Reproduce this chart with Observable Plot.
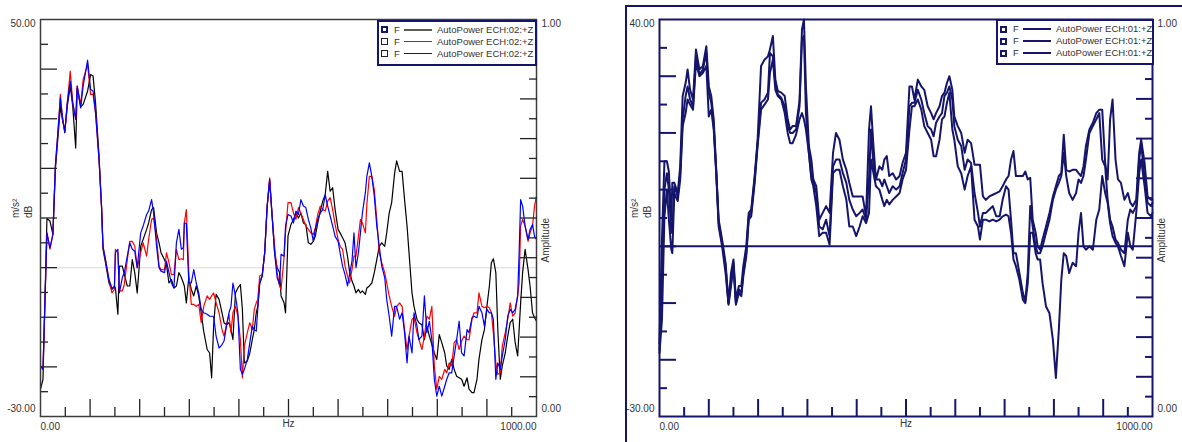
<!DOCTYPE html>
<html>
<head>
<meta charset="utf-8">
<script src="https://cdn.jsdelivr.net/npm/d3@7"></script>
<script src="https://cdn.jsdelivr.net/npm/@observablehq/plot@0.6"></script>
<style>
html, body { margin: 0; padding: 0; background: #fff; overflow: hidden; }
#root { position: relative; width: 1182px; height: 442px; font-family: "Liberation Sans", Arial, Helvetica, sans-serif; }
.wrap { position: absolute; top: 0; width: 591px; height: 442px; }
.wrap svg { position: absolute; left: 0; top: 0; }
.outer { position: absolute; left: 625px; top: 5px; width: 700px; height: 600px; border-left: 2px solid #15156b; border-top: 2px solid #15156b; box-sizing: border-box; }
.legend { position: absolute; background: #fff; border: 2px solid #15156b; box-sizing: border-box; }
.legend div { position: absolute; }
.lg-text { font-size: 9.5px; line-height: 12px; height: 12px; color: #333; white-space: nowrap; }
</style>
</head>
<body>
<div id="root"></div>
<script>
// ---------------- DATA ----------------
// Left chart (dB, -30..50)
const freqL = [0,5,13,19,25,30,37,40,44,49,54,60,65,71,74,81,86,95,101,106,111,118,123,126,131,138,144,149,151,156,159,165,169,175,180,185,190,195,202,207,214,218,224,228,234,239,243,250,254,259,264,269,274,279,284,288,290,294,299,304,309,314,319,324,329,336,341,345,349,354,360,366,370,375,380,384,388,393,398,403,407,411,417,422,427,431,435,438,442,447,452,457,462,467,472,477,482,485,491,494,499,
505,510,515,520,525,530,535,540,545,550,554,559,564,569,574,579,584,589,594,600,604,609,614,619,623,628,632,636,641,645,649,655,658,663,668,673,678,683,688,694,698,703,708,714,718,724,729,734,739,743,749,753,759,763,769,774,779,784,789,794,799,804,809,815,819,824,829,834,839,844,849,854,860,864,870,874,880,884,890,895,900,905,909,913,918,922,927,931,937,942,947,952,957,962,965,968,972,977,983,987,992,996,1000];

const blackL = [-24.5,-22.5,9.9,9.4,6.7,19.8,28.5,32.5,29.9,27.5,
32.5,36.6,32.5,24.1,36.2,32.4,32.9,35.6,38.9,38.6,
33.2,22.5,12.4,3.7,1.0,-3.1,-4.4,-3.7,-4.1,-9.4,
0.3,0.3,-1.4,-3.7,-3.7,1.6,-1.0,-5.1,4.3,5.7,
7.7,9.0,11.7,12.1,7.0,5.0,3.0,1.6,0.6,-3.1,
-2.4,-4.1,-3.7,-1.0,-2.0,-3.1,-3.7,-7.1,-2.0,-4.4,
-5.7,-3.7,-5.7,-9.1,-12.8,-16.5,-17.2,-22.2,-11.8,-5.4,
-6.4,-9.1,-11.1,-11.5,-11.1,-12.5,-14.5,-5.1,-4.1,-3.4,
-8.4,-19.2,-18.8,-17.2,-14.5,-12.5,-9.1,-7.8,-3.1,-1.7,
3.0,12.4,17.4,10.4,3.0,0.0,-1.0,-5.7,-7.1,-9.1,
6.4,
8.7,9.7,11.0,10.0,11.0,9.0,8.7,5.0,4.7,
5.3,6.3,9.0,11.4,13.4,14.7,19.4,15.4,16.1,11.7,
7.7,7.0,6.0,5.0,2.3,-0.7,-2.7,-3.7,-5.1,-4.4,
-5.1,-4.7,-5.4,-4.1,-3.7,-3.1,-1.0,1.6,4.3,5.0,
4.3,7.0,11.0,13.1,19.1,21.5,19.4,19.4,13.7,8.4,
3.0,-5.1,-7.8,-10.4,-11.1,-11.5,-14.5,-11.8,-13.8,-15.5,
-17.2,-18.5,-13.5,-15.1,-17.2,-19.8,-20.5,-18.5,-20.5,-21.9,
-22.2,-22.5,-23.9,-22.2,-24.5,-25.2,-25.2,-22.5,-18.5,-14.5,
-12.5,-7.8,-3.7,1.0,1.8,-1.0,-12.5,-22.5,-19.8,-17.2,
-13.8,-11.1,-10.4,-15.1,-17.8,-12.5,-7.1,-1.0,3.7,-0.4,
-3.7,-9.1,-10.1,-10.8];

const redL = [-19.8,-20.5,7.0,3.7,6.7,20.5,29.9,34.9,30.5,27.2,
33.2,39.6,33.2,29.9,36.6,32.9,37.9,40.9,34.9,34.9,
31.2,21.8,12.4,4.3,1.6,-2.4,-5.1,-4.4,3.7,3.0,
-4.7,-4.7,-3.4,1.6,5.3,5.3,4.3,0.0,3.0,5.0,
2.3,5.7,9.7,10.0,6.0,0.3,-0.4,-0.4,3.0,1.0,
-1.4,-1.4,3.7,1.6,1.8,1.6,9.0,11.7,-1.0,-7.4,
-7.4,-7.8,-7.4,-11.1,-7.8,-5.7,-6.4,-5.7,-5.1,-7.1,
-9.1,-12.5,-13.8,-11.5,-9.4,-13.1,-9.1,-7.8,-9.8,-14.5,
-22.2,-15.8,-13.1,-11.1,-12.5,-8.4,-7.1,-6.4,-1.7,-1.4,
3.0,12.4,18.1,10.4,4.3,-1.0,-3.7,-4.4,2.0,7.0,
13.1,
13.1,11.0,9.7,12.1,11.0,9.7,8.4,7.7,7.0,
6.7,8.0,10.7,12.4,11.7,11.4,13.4,14.1,11.7,8.7,
5.7,4.3,3.7,0.3,-1.7,-3.1,-0.4,2.3,2.3,6.3,
9.7,9.0,7.0,12.7,18.4,18.4,15.7,9.7,3.0,1.0,
-1.0,-3.1,-5.7,-7.8,-9.8,-7.8,-7.1,-7.8,-12.5,-16.5,
-13.8,-10.4,-10.1,-13.1,-14.5,-16.5,-13.8,-9.8,-10.4,-7.8,
-19.8,-24.5,-21.9,-22.5,-20.5,-21.2,-19.2,-19.8,-15.1,-14.5,
-16.5,-14.8,-13.8,-14.5,-14.5,-10.4,-9.1,-9.1,-5.1,-7.8,
-8.1,-7.8,-8.1,-9.1,-13.1,-19.2,-21.5,-21.2,-15.8,-13.1,
-10.4,-7.1,-9.8,-9.1,-5.7,-3.1,8.4,9.7,8.4,5.3,
7.0,8.4,12.4,14.4];

const blueL = [-19.8,-20.5,7.0,4.0,6.7,20.5,29.9,34.2,30.5,27.2,
33.2,37.6,33.2,29.9,36.6,32.2,36.6,41.8,35.9,35.6,
31.2,21.8,12.4,4.3,1.6,-2.4,-4.1,-4.1,3.0,3.7,
-5.1,-2.0,-1.0,2.3,5.0,3.7,3.3,0.0,7.0,8.4,
10.7,11.4,13.7,11.0,4.3,0.0,-0.7,-1.0,1.3,-1.0,
-3.1,-4.1,5.0,7.7,3.7,4.0,9.0,8.9,-3.1,-3.1,
-0.4,-3.1,-5.1,-8.4,-9.1,-9.4,-9.8,-9.8,-9.8,-13.8,
-16.2,-15.5,-14.8,-11.8,-9.1,-7.8,-3.1,-5.7,-9.1,-20.5,
-21.5,-20.5,-18.5,-15.1,-11.8,-12.5,-12.8,-8.4,-3.1,-1.7,
3.0,12.4,17.8,10.4,3.0,-2.0,-3.4,2.7,2.3,8.4,
10.7,
10.4,9.0,11.4,10.7,13.7,12.4,12.1,9.7,8.0,
5.3,7.7,9.7,11.0,11.7,14.7,12.4,10.4,8.4,6.3,
5.3,3.0,0.3,-1.4,-3.7,-1.4,1.3,7.0,0.0,3.0,
7.0,11.0,15.1,18.4,21.1,18.4,14.4,8.4,4.3,0.3,
-2.0,-6.4,-9.8,-13.8,-7.8,-7.8,-10.4,-9.1,-13.1,-19.2,
-13.8,-17.2,-9.1,-11.8,-14.5,-13.8,-5.7,-13.1,-10.8,-14.5,
-22.5,-25.9,-23.9,-25.9,-23.9,-22.5,-21.2,-21.2,-17.8,-14.5,
-10.8,-17.2,-17.8,-12.5,-13.1,-10.1,-9.8,-10.1,-7.8,-9.1,
-11.8,-8.4,-9.1,-9.1,-10.4,-22.5,-19.2,-20.5,-17.8,-14.5,
-9.8,-8.4,-9.1,-8.4,-5.7,3.0,13.7,12.4,8.4,5.7,
7.7,8.7,6.3,5.7];

// Right chart (dB, -30..40)
const freqR = [0,5,10,15,19,24,26,30,37,42,
47,53,57,62,68,74,81,88,95,100,
105,110,115,120,127,134,140,145,150,155,
161,166,170,176,181,186,193,199,206,213,
220,224,230,235,240,247,254,260,265,270,
277,284,289,293,297,303,308,312,318,324,
331,338,345,352,358,365,372,379,385,392,
399,406,412,419,425,429,434,439,446,452,
456,461,466,473,480,487,493,500,507,512,
517,524,531,537,544,551,556,561,568,573,
578,583,588,594,598,605,612,619,625,632,
639,646,650,656,662,669,676,683,690,696,
703,708,713,718,723,730,737,742,747,752,
757,763,767,772,777,784,791,798,804,810,
815,820,825,831,838,845,850,855,860,865,
872,879,886,892,898,904,909,914,919,925,
930,936,943,950,955,960,967,973,977,984,
990,997,1000];

const traceR1 = [-17.1,1.2,15.0,15.0,13.2,4.7,11.2,11.2,9.4,14.1,
26.5,28.8,31.2,27.6,25.9,34.7,31.2,31.8,35.3,28.2,
26.5,22.4,13.5,4.7,1.2,-2.9,-10.0,-4.7,-2.3,-9.4,
-7.0,-7.0,-3.5,0.0,5.9,6.5,12.4,18.8,31.8,32.9,
33.5,34.7,37.1,29.4,27.4,27.1,26.5,22.4,20.6,21.2,
21.2,25.6,38.2,40.0,28.2,17.7,15.3,11.8,10.6,4.7,
5.9,7.1,5.9,16.5,20.0,18.8,15.3,13.5,11.2,8.8,
8.8,8.8,8.8,5.3,20.6,24.7,17.7,11.8,14.1,13.5,
15.3,15.9,12.4,12.9,11.8,12.4,14.7,16.5,28.2,28.2,
25.9,29.4,28.2,27.6,24.7,23.5,22.4,23.5,24.7,26.5,
27.1,28.8,30.0,27.6,22.9,21.2,20.0,16.5,18.8,18.2,
14.4,14.4,14.4,8.8,8.2,8.8,9.1,9.4,9.7,10.6,
11.8,12.4,15.3,16.8,12.4,12.4,12.4,13.2,11.8,12.1,
4.7,2.4,0.0,-0.6,1.2,3.5,5.9,8.8,10.6,12.4,
12.9,19.7,13.5,13.2,13.5,13.5,12.9,12.4,14.1,17.7,
20.6,21.8,23.5,24.1,24.1,14.7,11.8,22.4,25.9,15.3,
11.8,11.2,8.2,9.4,7.7,7.1,8.2,16.5,18.8,14.7,
8.8,8.2,8.2];

const traceR2 = [-18.2,-4.1,10.0,12.9,10.0,2.4,2.4,10.6,8.8,12.9,
22.4,26.5,28.2,25.9,24.7,33.5,30.3,31.2,34.1,27.1,
25.3,21.2,13.5,4.1,0.6,-3.5,-10.0,-6.5,-2.9,-10.0,
-7.6,-8.2,-4.7,-1.2,5.3,5.9,11.8,18.2,25.3,25.9,
27.1,34.1,33.5,28.8,26.8,26.2,24.7,21.2,20.0,20.0,
20.6,24.7,36.5,37.1,23.5,16.5,12.4,11.2,9.4,3.5,
3.0,4.7,1.8,14.1,15.3,15.3,12.9,11.2,8.2,6.5,
5.3,5.9,6.5,4.7,11.8,20.6,14.1,11.8,11.8,10.6,
11.8,10.6,9.4,10.6,10.0,10.6,12.9,15.3,24.7,25.3,
25.3,27.6,25.9,23.5,21.2,20.6,19.4,21.8,22.9,23.5,
26.5,27.1,28.2,25.9,21.2,18.8,17.7,13.5,15.3,14.7,
9.4,5.9,3.5,5.9,5.9,6.5,7.1,5.3,5.3,8.2,
10.6,10.0,4.7,-1.2,-1.2,-4.7,-8.2,-9.7,-4.7,7.1,
3.5,0.0,-1.2,-1.2,0.0,2.4,4.7,8.2,10.0,11.2,
12.4,16.5,12.4,9.4,8.2,9.4,11.8,11.2,12.4,15.3,
20.0,21.2,22.4,23.5,15.3,14.1,8.2,4.7,3.5,1.2,
0.6,-0.6,-1.2,4.7,6.5,5.9,7.1,15.3,18.2,11.8,
7.7,7.1,7.7];

const traceR3 = [-18.8,-12.9,5.3,10.0,4.7,-0.6,-1.2,9.4,8.0,11.8,
21.2,23.5,25.9,25.0,24.1,32.4,30.0,30.6,31.8,22.9,
24.1,20.6,12.9,3.5,0.0,-4.7,-10.3,-7.0,-3.5,-10.3,
-8.2,-8.8,-5.3,-1.7,4.7,5.3,11.2,17.7,24.1,25.0,
25.9,30.6,32.9,27.6,26.5,25.9,23.5,20.0,18.2,18.2,
19.7,22.4,23.5,22.4,20.6,16.5,11.8,10.6,7.1,1.8,
2.4,2.4,0.3,12.9,13.5,13.5,10.6,8.2,3.5,3.5,
1.8,3.5,5.3,4.1,5.9,15.3,12.9,10.6,10.0,8.2,
7.1,8.2,7.4,8.2,8.8,9.4,11.8,13.5,20.6,24.7,
24.7,25.9,24.1,21.2,20.0,18.8,15.9,15.9,18.8,22.4,
22.9,25.3,27.1,20.6,18.8,14.1,12.9,10.0,12.4,14.1,
4.7,3.5,1.2,4.7,4.7,4.4,4.7,4.4,4.7,5.3,
5.6,5.3,2.4,-2.3,-3.5,-5.9,-9.4,-10.0,-6.5,2.4,
2.4,-1.2,-2.3,-2.3,-6.5,-10.6,-11.8,-16.5,-23.2,-14.7,
-5.9,-1.2,-1.7,-4.7,-2.9,-3.5,2.4,5.9,0.0,-0.6,
0.0,-0.6,4.7,6.5,12.4,9.4,7.7,4.1,1.8,0.6,
0.0,-1.7,-3.5,2.4,0.0,-0.6,5.9,12.9,15.3,10.6,
5.9,5.3,5.9];

// Axes / ticks
const xMajorTicks = [100,200,300,400,500,600,700,800,900];
const xMinorTicks = [50,150,250,350,450,550,650,750,850,950];
const xEndTicks = [0, 1000];
const yMajorTicksL = [-20,-10,0,10,20,30,40];
const yMinorTicksL = [-25,-15,-5,5,15,25,35,45];
const yDomainL = [-30, 50];
const yMajorTicksR = [-20,-10,0,10,20,30];
const yMinorTicksR = [-25,-15,-5,5,15,25,35];
const yDomainR = [-30, 40];
const ampMajorTicks = [0.1,0.2,0.3,0.4,0.5,0.6,0.7,0.8,0.9];
const ampMinorTicks = [0.05,0.15,0.25,0.35,0.45,0.55,0.65,0.75,0.85,0.95];
const ampDomain = [0, 1];
const xLabel = "Hz";
const yUnitLabel = "m/s²";
const yDbLabel = "dB";
const ampLabel = "Amplitude";

// Legends
const legendLabelsL = ["AutoPower ECH:02:+Z", "AutoPower ECH:02:+Z", "AutoPower ECH:02:+Z"];
const legendLabelsR = ["AutoPower ECH:01:+Z", "AutoPower ECH:01:+Z", "AutoPower ECH:01:+Z"];
const legendPrefix = "F";

// ---------------- DRAW ----------------
const NAVY = "#15156b";
const FONT = "'Liberation Sans', Arial, Helvetica, sans-serif";
const fmt = d => d.toFixed(2);
const rowsOf = (freq, vals) => vals.slice(0, Math.min(freq.length, vals.length)).map((v, i) => ({f: freq[i], v}));

function mainPlot(o) {
  const tk = {stroke: o.tickColor, strokeWidth: o.tickWidth, fill: "none", label: null};
  const lab = {tickSize: 0, label: null, stroke: "none"};
  return Plot.plot({
    width: o.width, height: 442,
    marginLeft: o.ml, marginRight: o.mr, marginTop: 19, marginBottom: 26,
    x: {domain: [0, 1000], axis: null},
    y: {domain: o.yDomain, axis: null},
    style: {fontFamily: FONT, fontSize: "10px", color: "#333", background: "transparent", overflow: "visible"},
    marks: [
      Plot.ruleY([0], {stroke: o.zeroColor, strokeWidth: o.zeroWidth}),
      ...o.series.map((vals, k) => Plot.line(rowsOf(o.freq, vals), {x: "f", y: "v", stroke: o.colors[k], strokeWidth: o.lineWidth})),
      Plot.axisX(xMajorTicks, {...tk, tickSize: 17, dy: -17}),
      Plot.axisX(xMinorTicks, {...tk, tickSize: 9, dy: -9}),
      Plot.axisY(o.yMajor, {...tk, anchor: "left", tickSize: 17, dx: 17}),
      Plot.axisY(o.yMinor, {...tk, anchor: "left", tickSize: 8, dx: 8}),
      Plot.axisY([o.yDomain[1]], {...lab, anchor: "left", tickPadding: 5, tickFormat: fmt, dy: 4}),
      Plot.axisY([o.yDomain[0]], {...lab, anchor: "left", tickPadding: 5, tickFormat: fmt, dy: -8}),
      Plot.axisX([xEndTicks[0]], {...lab, tickPadding: 6, textAnchor: "start", tickFormat: fmt}),
      Plot.axisX([xEndTicks[1]], {...lab, tickPadding: 6, textAnchor: "end", tickFormat: fmt}),
      Plot.text([xLabel], {text: d => d, frameAnchor: "bottom", dy: 10}),
      Plot.text([yUnitLabel], {text: d => d, frameAnchor: "left", dx: -25, rotate: -90}),
      Plot.text([yDbLabel], {text: d => d, frameAnchor: "left", dx: -12, rotate: -90}),
      Plot.frame({stroke: o.frameColor, strokeWidth: o.frameWidth})
    ]
  });
}

function ampPlot(o) {
  const tk = {anchor: "right", stroke: o.tickColor, strokeWidth: o.tickWidth, fill: "none", label: null};
  const lab = {anchor: "right", tickSize: 0, label: null, stroke: "none", tickPadding: 5, tickFormat: fmt};
  return Plot.plot({
    width: o.width, height: 442,
    marginLeft: o.ml, marginRight: o.mr, marginTop: 19, marginBottom: 26,
    x: {domain: [0, 1000], axis: null},
    y: {domain: ampDomain, axis: null},
    style: {fontFamily: FONT, fontSize: "10px", color: "#333", background: "transparent", overflow: "visible"},
    marks: [
      Plot.axisY(ampMajorTicks, {...tk, tickSize: 17, dx: -17}),
      Plot.axisY(ampMinorTicks, {...tk, tickSize: 8, dx: -8}),
      Plot.axisY([ampDomain[1]], {...lab, dy: 4}),
      Plot.axisY([ampDomain[0]], {...lab, dy: -8}),
      Plot.text([ampLabel], {text: d => d, frameAnchor: "right", dx: 9, rotate: -90})
    ]
  });
}

function legend(parent, o) {
  const box = document.createElement("div");
  box.className = "legend";
  Object.assign(box.style, {left: o.left + "px", top: o.top + "px", width: o.width + "px", height: o.height + "px"});
  o.labels.forEach((label, i) => {
    const cy = 8 + 12 * i;
    const sq = document.createElement("div");
    Object.assign(sq.style, {left: "2px", top: (cy - 3.5) + "px", width: "7px", height: "7px", boxSizing: "border-box",
      border: o.squareWidths[i] + "px solid " + o.squareColors[i]});
    const f = document.createElement("div");
    f.className = "lg-text"; f.textContent = legendPrefix;
    Object.assign(f.style, {left: "15.5px", top: (cy - 6) + "px"});
    const ln = document.createElement("div");
    Object.assign(ln.style, {left: "25px", top: (cy - o.lineWidths[i] / 2) + "px", width: "28px", height: o.lineWidths[i] + "px", background: o.colors[i]});
    const t = document.createElement("div");
    t.className = "lg-text"; t.textContent = label;
    Object.assign(t.style, {left: "58.5px", top: (cy - 6) + "px"});
    box.append(sq, f, ln, t);
  });
  parent.appendChild(box);
}

const root = document.getElementById("root");

const outer = document.createElement("div");
outer.className = "outer";
root.appendChild(outer);

// Left chart
const wl = document.createElement("div");
wl.className = "wrap"; wl.style.left = "0px";
const leftOpts = {width: 591, ml: 40, mr: 55, freq: freqL, series: [blackL, redL, blueL],
  colors: ["#000000", "#ff0000", "#0000ff"], lineWidth: 1.2, yDomain: yDomainL,
  yMajor: yMajorTicksL, yMinor: yMinorTicksL, zeroColor: "#e4e4e4", zeroWidth: 1.5,
  tickColor: "#222", tickWidth: 1.3, frameColor: "#3c3c3c", frameWidth: 1.5};
wl.appendChild(mainPlot(leftOpts));
wl.appendChild(ampPlot({width: 591, ml: 40, mr: 55, tickColor: "#222", tickWidth: 1.3}));
root.appendChild(wl);

// Right chart
const wr = document.createElement("div");
wr.className = "wrap"; wr.style.left = "591px";
const rightOpts = {width: 591, ml: 68, mr: 30, freq: freqR, series: [traceR1, traceR2, traceR3],
  colors: [NAVY, NAVY, NAVY], lineWidth: 2, yDomain: yDomainR,
  yMajor: yMajorTicksR, yMinor: yMinorTicksR, zeroColor: NAVY, zeroWidth: 2,
  tickColor: NAVY, tickWidth: 2, frameColor: NAVY, frameWidth: 2};
wr.appendChild(mainPlot(rightOpts));
wr.appendChild(ampPlot({width: 591, ml: 68, mr: 30, tickColor: NAVY, tickWidth: 2}));
root.appendChild(wr);

legend(root, {left: 376.5, top: 19.5, width: 160, height: 46, labels: legendLabelsL,
  colors: ["#5a5a5a", "#ff0000", "#0000ff"], lineWidths: [2, 1.3, 1.3],
  squareColors: [NAVY, "#222", "#222"], squareWidths: [2, 1, 1]});
legend(root, {left: 995.5, top: 19, width: 158, height: 46, labels: legendLabelsR,
  colors: [NAVY, NAVY, NAVY], lineWidths: [2, 2, 2],
  squareColors: [NAVY, NAVY, NAVY], squareWidths: [2, 2, 2]});
</script>
</body>
</html>
